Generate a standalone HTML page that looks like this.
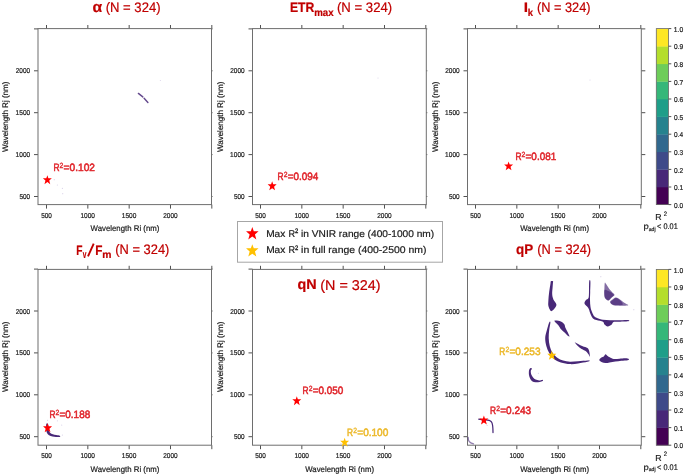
<!DOCTYPE html><html><head><meta charset="utf-8"><style>html,body{margin:0;padding:0;background:#fff;width:685px;height:476px;overflow:hidden}svg{display:block;text-rendering:geometricPrecision;will-change:transform}</style></head><body><svg width="685" height="476" viewBox="0 0 685 476" font-family="Liberation Sans, sans-serif">
<rect width="685" height="476" fill="#fff"/>
<line x1="46.50" y1="204.60" x2="46.50" y2="208.60" stroke="#505050" stroke-width="1.00"/>
<line x1="46.50" y1="25.00" x2="46.50" y2="28.60" stroke="#505050" stroke-width="1.00"/>
<line x1="34.00" y1="196.50" x2="38.00" y2="196.50" stroke="#505050" stroke-width="1.00"/>
<line x1="211.50" y1="196.50" x2="212.50" y2="196.50" stroke="#505050" stroke-width="1.00"/>
<line x1="87.83" y1="204.60" x2="87.83" y2="208.60" stroke="#505050" stroke-width="1.00"/>
<line x1="87.83" y1="25.00" x2="87.83" y2="28.60" stroke="#505050" stroke-width="1.00"/>
<line x1="34.00" y1="154.60" x2="38.00" y2="154.60" stroke="#505050" stroke-width="1.00"/>
<line x1="211.50" y1="154.60" x2="212.50" y2="154.60" stroke="#505050" stroke-width="1.00"/>
<line x1="129.16" y1="204.60" x2="129.16" y2="208.60" stroke="#505050" stroke-width="1.00"/>
<line x1="129.16" y1="25.00" x2="129.16" y2="28.60" stroke="#505050" stroke-width="1.00"/>
<line x1="34.00" y1="112.70" x2="38.00" y2="112.70" stroke="#505050" stroke-width="1.00"/>
<line x1="211.50" y1="112.70" x2="212.50" y2="112.70" stroke="#505050" stroke-width="1.00"/>
<line x1="170.49" y1="204.60" x2="170.49" y2="208.60" stroke="#505050" stroke-width="1.00"/>
<line x1="170.49" y1="25.00" x2="170.49" y2="28.60" stroke="#505050" stroke-width="1.00"/>
<line x1="34.00" y1="70.80" x2="38.00" y2="70.80" stroke="#505050" stroke-width="1.00"/>
<line x1="211.50" y1="70.80" x2="212.50" y2="70.80" stroke="#505050" stroke-width="1.00"/>
<line x1="211.82" y1="204.60" x2="211.82" y2="208.60" stroke="#505050" stroke-width="1.00"/>
<line x1="211.82" y1="25.00" x2="211.82" y2="28.60" stroke="#505050" stroke-width="1.00"/>
<line x1="34.00" y1="28.90" x2="38.00" y2="28.90" stroke="#505050" stroke-width="1.00"/>
<line x1="211.50" y1="28.90" x2="212.50" y2="28.90" stroke="#505050" stroke-width="1.00"/>
<rect x="38.00" y="28.60" width="173.50" height="176.00" fill="none" stroke="#6e6e6e" stroke-width="1"/>
<text x="41.14" y="217.90" font-size="7.10" fill="#1a1a1a" textLength="10.70" lengthAdjust="spacingAndGlyphs" stroke="#1a1a1a" stroke-width="0.20">500</text>
<text x="19.44" y="199.05" font-size="7.10" fill="#1a1a1a" textLength="10.70" lengthAdjust="spacingAndGlyphs" stroke="#1a1a1a" stroke-width="0.20">500</text>
<text x="80.44" y="217.90" font-size="7.10" fill="#1a1a1a" textLength="14.55" lengthAdjust="spacingAndGlyphs" stroke="#1a1a1a" stroke-width="0.20">1000</text>
<text x="15.61" y="157.15" font-size="7.10" fill="#1a1a1a" textLength="14.55" lengthAdjust="spacingAndGlyphs" stroke="#1a1a1a" stroke-width="0.20">1000</text>
<text x="121.77" y="217.90" font-size="7.10" fill="#1a1a1a" textLength="14.55" lengthAdjust="spacingAndGlyphs" stroke="#1a1a1a" stroke-width="0.20">1500</text>
<text x="15.61" y="115.25" font-size="7.10" fill="#1a1a1a" textLength="14.55" lengthAdjust="spacingAndGlyphs" stroke="#1a1a1a" stroke-width="0.20">1500</text>
<text x="163.27" y="217.90" font-size="7.10" fill="#1a1a1a" textLength="14.38" lengthAdjust="spacingAndGlyphs" stroke="#1a1a1a" stroke-width="0.20">2000</text>
<text x="15.78" y="73.35" font-size="7.10" fill="#1a1a1a" textLength="14.38" lengthAdjust="spacingAndGlyphs" stroke="#1a1a1a" stroke-width="0.20">2000</text>
<text x="90.61" y="231.40" font-size="8.10" fill="#1a1a1a" textLength="68.74" lengthAdjust="spacingAndGlyphs" stroke="#1a1a1a" stroke-width="0.20">Wavelength Ri (nm)</text>
<text transform="translate(8.30 152.04) rotate(-90)" x="0" y="0" font-size="8.10" fill="#1a1a1a" stroke="#1a1a1a" stroke-width="0.20" textLength="70.35" lengthAdjust="spacingAndGlyphs">Wavelength Rj (nm)</text>
<line x1="260.50" y1="204.60" x2="260.50" y2="208.60" stroke="#505050" stroke-width="1.00"/>
<line x1="260.50" y1="25.00" x2="260.50" y2="28.60" stroke="#505050" stroke-width="1.00"/>
<line x1="248.50" y1="196.50" x2="252.50" y2="196.50" stroke="#505050" stroke-width="1.00"/>
<line x1="426.30" y1="196.50" x2="427.30" y2="196.50" stroke="#505050" stroke-width="1.00"/>
<line x1="301.83" y1="204.60" x2="301.83" y2="208.60" stroke="#505050" stroke-width="1.00"/>
<line x1="301.83" y1="25.00" x2="301.83" y2="28.60" stroke="#505050" stroke-width="1.00"/>
<line x1="248.50" y1="154.60" x2="252.50" y2="154.60" stroke="#505050" stroke-width="1.00"/>
<line x1="426.30" y1="154.60" x2="427.30" y2="154.60" stroke="#505050" stroke-width="1.00"/>
<line x1="343.16" y1="204.60" x2="343.16" y2="208.60" stroke="#505050" stroke-width="1.00"/>
<line x1="343.16" y1="25.00" x2="343.16" y2="28.60" stroke="#505050" stroke-width="1.00"/>
<line x1="248.50" y1="112.70" x2="252.50" y2="112.70" stroke="#505050" stroke-width="1.00"/>
<line x1="426.30" y1="112.70" x2="427.30" y2="112.70" stroke="#505050" stroke-width="1.00"/>
<line x1="384.49" y1="204.60" x2="384.49" y2="208.60" stroke="#505050" stroke-width="1.00"/>
<line x1="384.49" y1="25.00" x2="384.49" y2="28.60" stroke="#505050" stroke-width="1.00"/>
<line x1="248.50" y1="70.80" x2="252.50" y2="70.80" stroke="#505050" stroke-width="1.00"/>
<line x1="426.30" y1="70.80" x2="427.30" y2="70.80" stroke="#505050" stroke-width="1.00"/>
<line x1="425.82" y1="204.60" x2="425.82" y2="208.60" stroke="#505050" stroke-width="1.00"/>
<line x1="425.82" y1="25.00" x2="425.82" y2="28.60" stroke="#505050" stroke-width="1.00"/>
<line x1="248.50" y1="28.90" x2="252.50" y2="28.90" stroke="#505050" stroke-width="1.00"/>
<line x1="426.30" y1="28.90" x2="427.30" y2="28.90" stroke="#505050" stroke-width="1.00"/>
<rect x="252.50" y="28.60" width="173.80" height="176.00" fill="none" stroke="#6e6e6e" stroke-width="1"/>
<text x="255.14" y="217.90" font-size="7.10" fill="#1a1a1a" textLength="10.70" lengthAdjust="spacingAndGlyphs" stroke="#1a1a1a" stroke-width="0.20">500</text>
<text x="233.94" y="199.05" font-size="7.10" fill="#1a1a1a" textLength="10.70" lengthAdjust="spacingAndGlyphs" stroke="#1a1a1a" stroke-width="0.20">500</text>
<text x="294.44" y="217.90" font-size="7.10" fill="#1a1a1a" textLength="14.55" lengthAdjust="spacingAndGlyphs" stroke="#1a1a1a" stroke-width="0.20">1000</text>
<text x="230.11" y="157.15" font-size="7.10" fill="#1a1a1a" textLength="14.55" lengthAdjust="spacingAndGlyphs" stroke="#1a1a1a" stroke-width="0.20">1000</text>
<text x="335.77" y="217.90" font-size="7.10" fill="#1a1a1a" textLength="14.55" lengthAdjust="spacingAndGlyphs" stroke="#1a1a1a" stroke-width="0.20">1500</text>
<text x="230.11" y="115.25" font-size="7.10" fill="#1a1a1a" textLength="14.55" lengthAdjust="spacingAndGlyphs" stroke="#1a1a1a" stroke-width="0.20">1500</text>
<text x="377.27" y="217.90" font-size="7.10" fill="#1a1a1a" textLength="14.38" lengthAdjust="spacingAndGlyphs" stroke="#1a1a1a" stroke-width="0.20">2000</text>
<text x="230.28" y="73.35" font-size="7.10" fill="#1a1a1a" textLength="14.38" lengthAdjust="spacingAndGlyphs" stroke="#1a1a1a" stroke-width="0.20">2000</text>
<text x="305.26" y="231.40" font-size="8.10" fill="#1a1a1a" textLength="68.74" lengthAdjust="spacingAndGlyphs" stroke="#1a1a1a" stroke-width="0.20">Wavelength Ri (nm)</text>
<text transform="translate(222.80 152.04) rotate(-90)" x="0" y="0" font-size="8.10" fill="#1a1a1a" stroke="#1a1a1a" stroke-width="0.20" textLength="70.35" lengthAdjust="spacingAndGlyphs">Wavelength Rj (nm)</text>
<line x1="475.50" y1="204.60" x2="475.50" y2="208.60" stroke="#505050" stroke-width="1.00"/>
<line x1="475.50" y1="25.00" x2="475.50" y2="28.60" stroke="#505050" stroke-width="1.00"/>
<line x1="463.50" y1="196.50" x2="467.50" y2="196.50" stroke="#505050" stroke-width="1.00"/>
<line x1="641.30" y1="196.50" x2="645.30" y2="196.50" stroke="#505050" stroke-width="1.00"/>
<line x1="516.83" y1="204.60" x2="516.83" y2="208.60" stroke="#505050" stroke-width="1.00"/>
<line x1="516.83" y1="25.00" x2="516.83" y2="28.60" stroke="#505050" stroke-width="1.00"/>
<line x1="463.50" y1="154.60" x2="467.50" y2="154.60" stroke="#505050" stroke-width="1.00"/>
<line x1="641.30" y1="154.60" x2="645.30" y2="154.60" stroke="#505050" stroke-width="1.00"/>
<line x1="558.16" y1="204.60" x2="558.16" y2="208.60" stroke="#505050" stroke-width="1.00"/>
<line x1="558.16" y1="25.00" x2="558.16" y2="28.60" stroke="#505050" stroke-width="1.00"/>
<line x1="463.50" y1="112.70" x2="467.50" y2="112.70" stroke="#505050" stroke-width="1.00"/>
<line x1="641.30" y1="112.70" x2="645.30" y2="112.70" stroke="#505050" stroke-width="1.00"/>
<line x1="599.49" y1="204.60" x2="599.49" y2="208.60" stroke="#505050" stroke-width="1.00"/>
<line x1="599.49" y1="25.00" x2="599.49" y2="28.60" stroke="#505050" stroke-width="1.00"/>
<line x1="463.50" y1="70.80" x2="467.50" y2="70.80" stroke="#505050" stroke-width="1.00"/>
<line x1="641.30" y1="70.80" x2="645.30" y2="70.80" stroke="#505050" stroke-width="1.00"/>
<line x1="640.82" y1="204.60" x2="640.82" y2="208.60" stroke="#505050" stroke-width="1.00"/>
<line x1="640.82" y1="25.00" x2="640.82" y2="28.60" stroke="#505050" stroke-width="1.00"/>
<line x1="463.50" y1="28.90" x2="467.50" y2="28.90" stroke="#505050" stroke-width="1.00"/>
<line x1="641.30" y1="28.90" x2="645.30" y2="28.90" stroke="#505050" stroke-width="1.00"/>
<rect x="467.50" y="28.60" width="173.80" height="176.00" fill="none" stroke="#6e6e6e" stroke-width="1"/>
<text x="470.14" y="217.90" font-size="7.10" fill="#1a1a1a" textLength="10.70" lengthAdjust="spacingAndGlyphs" stroke="#1a1a1a" stroke-width="0.20">500</text>
<text x="448.94" y="199.05" font-size="7.10" fill="#1a1a1a" textLength="10.70" lengthAdjust="spacingAndGlyphs" stroke="#1a1a1a" stroke-width="0.20">500</text>
<text x="509.44" y="217.90" font-size="7.10" fill="#1a1a1a" textLength="14.55" lengthAdjust="spacingAndGlyphs" stroke="#1a1a1a" stroke-width="0.20">1000</text>
<text x="445.11" y="157.15" font-size="7.10" fill="#1a1a1a" textLength="14.55" lengthAdjust="spacingAndGlyphs" stroke="#1a1a1a" stroke-width="0.20">1000</text>
<text x="550.77" y="217.90" font-size="7.10" fill="#1a1a1a" textLength="14.55" lengthAdjust="spacingAndGlyphs" stroke="#1a1a1a" stroke-width="0.20">1500</text>
<text x="445.11" y="115.25" font-size="7.10" fill="#1a1a1a" textLength="14.55" lengthAdjust="spacingAndGlyphs" stroke="#1a1a1a" stroke-width="0.20">1500</text>
<text x="592.27" y="217.90" font-size="7.10" fill="#1a1a1a" textLength="14.38" lengthAdjust="spacingAndGlyphs" stroke="#1a1a1a" stroke-width="0.20">2000</text>
<text x="445.28" y="73.35" font-size="7.10" fill="#1a1a1a" textLength="14.38" lengthAdjust="spacingAndGlyphs" stroke="#1a1a1a" stroke-width="0.20">2000</text>
<text x="520.26" y="231.40" font-size="8.10" fill="#1a1a1a" textLength="68.74" lengthAdjust="spacingAndGlyphs" stroke="#1a1a1a" stroke-width="0.20">Wavelength Ri (nm)</text>
<text transform="translate(437.80 152.04) rotate(-90)" x="0" y="0" font-size="8.10" fill="#1a1a1a" stroke="#1a1a1a" stroke-width="0.20" textLength="70.35" lengthAdjust="spacingAndGlyphs">Wavelength Rj (nm)</text>
<line x1="46.50" y1="445.20" x2="46.50" y2="449.20" stroke="#505050" stroke-width="1.00"/>
<line x1="46.50" y1="265.80" x2="46.50" y2="269.40" stroke="#505050" stroke-width="1.00"/>
<line x1="34.00" y1="436.70" x2="38.00" y2="436.70" stroke="#505050" stroke-width="1.00"/>
<line x1="211.50" y1="436.70" x2="212.50" y2="436.70" stroke="#505050" stroke-width="1.00"/>
<line x1="87.83" y1="445.20" x2="87.83" y2="449.20" stroke="#505050" stroke-width="1.00"/>
<line x1="87.83" y1="265.80" x2="87.83" y2="269.40" stroke="#505050" stroke-width="1.00"/>
<line x1="34.00" y1="394.80" x2="38.00" y2="394.80" stroke="#505050" stroke-width="1.00"/>
<line x1="211.50" y1="394.80" x2="212.50" y2="394.80" stroke="#505050" stroke-width="1.00"/>
<line x1="129.16" y1="445.20" x2="129.16" y2="449.20" stroke="#505050" stroke-width="1.00"/>
<line x1="129.16" y1="265.80" x2="129.16" y2="269.40" stroke="#505050" stroke-width="1.00"/>
<line x1="34.00" y1="352.90" x2="38.00" y2="352.90" stroke="#505050" stroke-width="1.00"/>
<line x1="211.50" y1="352.90" x2="212.50" y2="352.90" stroke="#505050" stroke-width="1.00"/>
<line x1="170.49" y1="445.20" x2="170.49" y2="449.20" stroke="#505050" stroke-width="1.00"/>
<line x1="170.49" y1="265.80" x2="170.49" y2="269.40" stroke="#505050" stroke-width="1.00"/>
<line x1="34.00" y1="311.00" x2="38.00" y2="311.00" stroke="#505050" stroke-width="1.00"/>
<line x1="211.50" y1="311.00" x2="212.50" y2="311.00" stroke="#505050" stroke-width="1.00"/>
<line x1="211.82" y1="445.20" x2="211.82" y2="449.20" stroke="#505050" stroke-width="1.00"/>
<line x1="211.82" y1="265.80" x2="211.82" y2="269.40" stroke="#505050" stroke-width="1.00"/>
<line x1="34.00" y1="269.10" x2="38.00" y2="269.10" stroke="#505050" stroke-width="1.00"/>
<line x1="211.50" y1="269.10" x2="212.50" y2="269.10" stroke="#505050" stroke-width="1.00"/>
<rect x="38.00" y="269.40" width="173.50" height="175.80" fill="none" stroke="#6e6e6e" stroke-width="1"/>
<text x="41.14" y="458.00" font-size="7.10" fill="#1a1a1a" textLength="10.70" lengthAdjust="spacingAndGlyphs" stroke="#1a1a1a" stroke-width="0.20">500</text>
<text x="19.44" y="439.25" font-size="7.10" fill="#1a1a1a" textLength="10.70" lengthAdjust="spacingAndGlyphs" stroke="#1a1a1a" stroke-width="0.20">500</text>
<text x="80.44" y="458.00" font-size="7.10" fill="#1a1a1a" textLength="14.55" lengthAdjust="spacingAndGlyphs" stroke="#1a1a1a" stroke-width="0.20">1000</text>
<text x="15.61" y="397.35" font-size="7.10" fill="#1a1a1a" textLength="14.55" lengthAdjust="spacingAndGlyphs" stroke="#1a1a1a" stroke-width="0.20">1000</text>
<text x="121.77" y="458.00" font-size="7.10" fill="#1a1a1a" textLength="14.55" lengthAdjust="spacingAndGlyphs" stroke="#1a1a1a" stroke-width="0.20">1500</text>
<text x="15.61" y="355.45" font-size="7.10" fill="#1a1a1a" textLength="14.55" lengthAdjust="spacingAndGlyphs" stroke="#1a1a1a" stroke-width="0.20">1500</text>
<text x="163.27" y="458.00" font-size="7.10" fill="#1a1a1a" textLength="14.38" lengthAdjust="spacingAndGlyphs" stroke="#1a1a1a" stroke-width="0.20">2000</text>
<text x="15.78" y="313.55" font-size="7.10" fill="#1a1a1a" textLength="14.38" lengthAdjust="spacingAndGlyphs" stroke="#1a1a1a" stroke-width="0.20">2000</text>
<text x="90.61" y="472.00" font-size="8.10" fill="#1a1a1a" textLength="68.74" lengthAdjust="spacingAndGlyphs" stroke="#1a1a1a" stroke-width="0.20">Wavelength Ri (nm)</text>
<text transform="translate(8.30 392.04) rotate(-90)" x="0" y="0" font-size="8.10" fill="#1a1a1a" stroke="#1a1a1a" stroke-width="0.20" textLength="70.35" lengthAdjust="spacingAndGlyphs">Wavelength Rj (nm)</text>
<line x1="260.50" y1="445.20" x2="260.50" y2="449.20" stroke="#505050" stroke-width="1.00"/>
<line x1="260.50" y1="265.80" x2="260.50" y2="269.40" stroke="#505050" stroke-width="1.00"/>
<line x1="248.50" y1="436.70" x2="252.50" y2="436.70" stroke="#505050" stroke-width="1.00"/>
<line x1="426.30" y1="436.70" x2="427.30" y2="436.70" stroke="#505050" stroke-width="1.00"/>
<line x1="301.83" y1="445.20" x2="301.83" y2="449.20" stroke="#505050" stroke-width="1.00"/>
<line x1="301.83" y1="265.80" x2="301.83" y2="269.40" stroke="#505050" stroke-width="1.00"/>
<line x1="248.50" y1="394.80" x2="252.50" y2="394.80" stroke="#505050" stroke-width="1.00"/>
<line x1="426.30" y1="394.80" x2="427.30" y2="394.80" stroke="#505050" stroke-width="1.00"/>
<line x1="343.16" y1="445.20" x2="343.16" y2="449.20" stroke="#505050" stroke-width="1.00"/>
<line x1="343.16" y1="265.80" x2="343.16" y2="269.40" stroke="#505050" stroke-width="1.00"/>
<line x1="248.50" y1="352.90" x2="252.50" y2="352.90" stroke="#505050" stroke-width="1.00"/>
<line x1="426.30" y1="352.90" x2="427.30" y2="352.90" stroke="#505050" stroke-width="1.00"/>
<line x1="384.49" y1="445.20" x2="384.49" y2="449.20" stroke="#505050" stroke-width="1.00"/>
<line x1="384.49" y1="265.80" x2="384.49" y2="269.40" stroke="#505050" stroke-width="1.00"/>
<line x1="248.50" y1="311.00" x2="252.50" y2="311.00" stroke="#505050" stroke-width="1.00"/>
<line x1="426.30" y1="311.00" x2="427.30" y2="311.00" stroke="#505050" stroke-width="1.00"/>
<line x1="425.82" y1="445.20" x2="425.82" y2="449.20" stroke="#505050" stroke-width="1.00"/>
<line x1="425.82" y1="265.80" x2="425.82" y2="269.40" stroke="#505050" stroke-width="1.00"/>
<line x1="248.50" y1="269.10" x2="252.50" y2="269.10" stroke="#505050" stroke-width="1.00"/>
<line x1="426.30" y1="269.10" x2="427.30" y2="269.10" stroke="#505050" stroke-width="1.00"/>
<rect x="252.50" y="269.40" width="173.80" height="175.80" fill="none" stroke="#6e6e6e" stroke-width="1"/>
<text x="255.14" y="458.00" font-size="7.10" fill="#1a1a1a" textLength="10.70" lengthAdjust="spacingAndGlyphs" stroke="#1a1a1a" stroke-width="0.20">500</text>
<text x="233.94" y="439.25" font-size="7.10" fill="#1a1a1a" textLength="10.70" lengthAdjust="spacingAndGlyphs" stroke="#1a1a1a" stroke-width="0.20">500</text>
<text x="294.44" y="458.00" font-size="7.10" fill="#1a1a1a" textLength="14.55" lengthAdjust="spacingAndGlyphs" stroke="#1a1a1a" stroke-width="0.20">1000</text>
<text x="230.11" y="397.35" font-size="7.10" fill="#1a1a1a" textLength="14.55" lengthAdjust="spacingAndGlyphs" stroke="#1a1a1a" stroke-width="0.20">1000</text>
<text x="335.77" y="458.00" font-size="7.10" fill="#1a1a1a" textLength="14.55" lengthAdjust="spacingAndGlyphs" stroke="#1a1a1a" stroke-width="0.20">1500</text>
<text x="230.11" y="355.45" font-size="7.10" fill="#1a1a1a" textLength="14.55" lengthAdjust="spacingAndGlyphs" stroke="#1a1a1a" stroke-width="0.20">1500</text>
<text x="377.27" y="458.00" font-size="7.10" fill="#1a1a1a" textLength="14.38" lengthAdjust="spacingAndGlyphs" stroke="#1a1a1a" stroke-width="0.20">2000</text>
<text x="230.28" y="313.55" font-size="7.10" fill="#1a1a1a" textLength="14.38" lengthAdjust="spacingAndGlyphs" stroke="#1a1a1a" stroke-width="0.20">2000</text>
<text x="305.26" y="472.00" font-size="8.10" fill="#1a1a1a" textLength="68.74" lengthAdjust="spacingAndGlyphs" stroke="#1a1a1a" stroke-width="0.20">Wavelength Ri (nm)</text>
<text transform="translate(222.80 392.04) rotate(-90)" x="0" y="0" font-size="8.10" fill="#1a1a1a" stroke="#1a1a1a" stroke-width="0.20" textLength="70.35" lengthAdjust="spacingAndGlyphs">Wavelength Rj (nm)</text>
<line x1="475.50" y1="445.20" x2="475.50" y2="449.20" stroke="#505050" stroke-width="1.00"/>
<line x1="475.50" y1="265.80" x2="475.50" y2="269.40" stroke="#505050" stroke-width="1.00"/>
<line x1="463.50" y1="436.70" x2="467.50" y2="436.70" stroke="#505050" stroke-width="1.00"/>
<line x1="641.30" y1="436.70" x2="645.30" y2="436.70" stroke="#505050" stroke-width="1.00"/>
<line x1="516.83" y1="445.20" x2="516.83" y2="449.20" stroke="#505050" stroke-width="1.00"/>
<line x1="516.83" y1="265.80" x2="516.83" y2="269.40" stroke="#505050" stroke-width="1.00"/>
<line x1="463.50" y1="394.80" x2="467.50" y2="394.80" stroke="#505050" stroke-width="1.00"/>
<line x1="641.30" y1="394.80" x2="645.30" y2="394.80" stroke="#505050" stroke-width="1.00"/>
<line x1="558.16" y1="445.20" x2="558.16" y2="449.20" stroke="#505050" stroke-width="1.00"/>
<line x1="558.16" y1="265.80" x2="558.16" y2="269.40" stroke="#505050" stroke-width="1.00"/>
<line x1="463.50" y1="352.90" x2="467.50" y2="352.90" stroke="#505050" stroke-width="1.00"/>
<line x1="641.30" y1="352.90" x2="645.30" y2="352.90" stroke="#505050" stroke-width="1.00"/>
<line x1="599.49" y1="445.20" x2="599.49" y2="449.20" stroke="#505050" stroke-width="1.00"/>
<line x1="599.49" y1="265.80" x2="599.49" y2="269.40" stroke="#505050" stroke-width="1.00"/>
<line x1="463.50" y1="311.00" x2="467.50" y2="311.00" stroke="#505050" stroke-width="1.00"/>
<line x1="641.30" y1="311.00" x2="645.30" y2="311.00" stroke="#505050" stroke-width="1.00"/>
<line x1="640.82" y1="445.20" x2="640.82" y2="449.20" stroke="#505050" stroke-width="1.00"/>
<line x1="640.82" y1="265.80" x2="640.82" y2="269.40" stroke="#505050" stroke-width="1.00"/>
<line x1="463.50" y1="269.10" x2="467.50" y2="269.10" stroke="#505050" stroke-width="1.00"/>
<line x1="641.30" y1="269.10" x2="645.30" y2="269.10" stroke="#505050" stroke-width="1.00"/>
<rect x="467.50" y="269.40" width="173.80" height="175.80" fill="none" stroke="#6e6e6e" stroke-width="1"/>
<text x="470.14" y="458.00" font-size="7.10" fill="#1a1a1a" textLength="10.70" lengthAdjust="spacingAndGlyphs" stroke="#1a1a1a" stroke-width="0.20">500</text>
<text x="448.94" y="439.25" font-size="7.10" fill="#1a1a1a" textLength="10.70" lengthAdjust="spacingAndGlyphs" stroke="#1a1a1a" stroke-width="0.20">500</text>
<text x="509.44" y="458.00" font-size="7.10" fill="#1a1a1a" textLength="14.55" lengthAdjust="spacingAndGlyphs" stroke="#1a1a1a" stroke-width="0.20">1000</text>
<text x="445.11" y="397.35" font-size="7.10" fill="#1a1a1a" textLength="14.55" lengthAdjust="spacingAndGlyphs" stroke="#1a1a1a" stroke-width="0.20">1000</text>
<text x="550.77" y="458.00" font-size="7.10" fill="#1a1a1a" textLength="14.55" lengthAdjust="spacingAndGlyphs" stroke="#1a1a1a" stroke-width="0.20">1500</text>
<text x="445.11" y="355.45" font-size="7.10" fill="#1a1a1a" textLength="14.55" lengthAdjust="spacingAndGlyphs" stroke="#1a1a1a" stroke-width="0.20">1500</text>
<text x="592.27" y="458.00" font-size="7.10" fill="#1a1a1a" textLength="14.38" lengthAdjust="spacingAndGlyphs" stroke="#1a1a1a" stroke-width="0.20">2000</text>
<text x="445.28" y="313.55" font-size="7.10" fill="#1a1a1a" textLength="14.38" lengthAdjust="spacingAndGlyphs" stroke="#1a1a1a" stroke-width="0.20">2000</text>
<text x="520.26" y="472.00" font-size="8.10" fill="#1a1a1a" textLength="68.74" lengthAdjust="spacingAndGlyphs" stroke="#1a1a1a" stroke-width="0.20">Wavelength Ri (nm)</text>
<text transform="translate(437.80 392.04) rotate(-90)" x="0" y="0" font-size="8.10" fill="#1a1a1a" stroke="#1a1a1a" stroke-width="0.20" textLength="70.35" lengthAdjust="spacingAndGlyphs">Wavelength Rj (nm)</text>
<rect x="656.30" y="187.00" width="12.20" height="17.90" fill="#440154"/>
<rect x="656.30" y="169.40" width="12.20" height="17.90" fill="#482878"/>
<rect x="656.30" y="151.80" width="12.20" height="17.90" fill="#3E4A89"/>
<rect x="656.30" y="134.20" width="12.20" height="17.90" fill="#31688E"/>
<rect x="656.30" y="116.60" width="12.20" height="17.90" fill="#26828E"/>
<rect x="656.30" y="99.00" width="12.20" height="17.90" fill="#1F9E89"/>
<rect x="656.30" y="81.40" width="12.20" height="17.90" fill="#35B779"/>
<rect x="656.30" y="63.80" width="12.20" height="17.90" fill="#6DCD59"/>
<rect x="656.30" y="46.20" width="12.20" height="17.90" fill="#B4DE2C"/>
<rect x="656.30" y="28.60" width="12.20" height="17.90" fill="#FDE725"/>
<rect x="656.30" y="28.60" width="12.20" height="176.00" fill="none" stroke="#6a6a6a" stroke-width="0.8"/>
<line x1="668.50" y1="204.60" x2="671.30" y2="204.60" stroke="#505050" stroke-width="1.00"/>
<text x="674.04" y="207.70" font-size="7.10" fill="#1a1a1a" textLength="9.11" lengthAdjust="spacingAndGlyphs" stroke="#1a1a1a" stroke-width="0.20">0.0</text>
<line x1="668.50" y1="187.00" x2="671.30" y2="187.00" stroke="#505050" stroke-width="1.00"/>
<text x="674.04" y="190.10" font-size="7.10" fill="#1a1a1a" textLength="9.18" lengthAdjust="spacingAndGlyphs" stroke="#1a1a1a" stroke-width="0.20">0.1</text>
<line x1="668.50" y1="169.40" x2="671.30" y2="169.40" stroke="#505050" stroke-width="1.00"/>
<text x="674.04" y="172.50" font-size="7.10" fill="#1a1a1a" textLength="9.20" lengthAdjust="spacingAndGlyphs" stroke="#1a1a1a" stroke-width="0.20">0.2</text>
<line x1="668.50" y1="151.80" x2="671.30" y2="151.80" stroke="#505050" stroke-width="1.00"/>
<text x="674.04" y="154.90" font-size="7.10" fill="#1a1a1a" textLength="9.14" lengthAdjust="spacingAndGlyphs" stroke="#1a1a1a" stroke-width="0.20">0.3</text>
<line x1="668.50" y1="134.20" x2="671.30" y2="134.20" stroke="#505050" stroke-width="1.00"/>
<text x="674.04" y="137.30" font-size="7.10" fill="#1a1a1a" textLength="9.04" lengthAdjust="spacingAndGlyphs" stroke="#1a1a1a" stroke-width="0.20">0.4</text>
<line x1="668.50" y1="116.60" x2="671.30" y2="116.60" stroke="#505050" stroke-width="1.00"/>
<text x="674.04" y="119.70" font-size="7.10" fill="#1a1a1a" textLength="9.13" lengthAdjust="spacingAndGlyphs" stroke="#1a1a1a" stroke-width="0.20">0.5</text>
<line x1="668.50" y1="99.00" x2="671.30" y2="99.00" stroke="#505050" stroke-width="1.00"/>
<text x="674.04" y="102.10" font-size="7.10" fill="#1a1a1a" textLength="9.14" lengthAdjust="spacingAndGlyphs" stroke="#1a1a1a" stroke-width="0.20">0.6</text>
<line x1="668.50" y1="81.40" x2="671.30" y2="81.40" stroke="#505050" stroke-width="1.00"/>
<text x="674.04" y="84.50" font-size="7.10" fill="#1a1a1a" textLength="9.20" lengthAdjust="spacingAndGlyphs" stroke="#1a1a1a" stroke-width="0.20">0.7</text>
<line x1="668.50" y1="63.80" x2="671.30" y2="63.80" stroke="#505050" stroke-width="1.00"/>
<text x="674.04" y="66.90" font-size="7.10" fill="#1a1a1a" textLength="9.14" lengthAdjust="spacingAndGlyphs" stroke="#1a1a1a" stroke-width="0.20">0.8</text>
<line x1="668.50" y1="46.20" x2="671.30" y2="46.20" stroke="#505050" stroke-width="1.00"/>
<text x="674.04" y="49.30" font-size="7.10" fill="#1a1a1a" textLength="9.16" lengthAdjust="spacingAndGlyphs" stroke="#1a1a1a" stroke-width="0.20">0.9</text>
<line x1="668.50" y1="28.60" x2="671.30" y2="28.60" stroke="#505050" stroke-width="1.00"/>
<text x="673.80" y="31.70" font-size="7.10" fill="#1a1a1a" textLength="9.36" lengthAdjust="spacingAndGlyphs" stroke="#1a1a1a" stroke-width="0.20">1.0</text>
<text x="655.18" y="220.20" font-size="8.70" fill="#1a1a1a" textLength="6.34" lengthAdjust="spacingAndGlyphs" stroke="#1a1a1a" stroke-width="0.20">R</text>
<text x="663.80" y="215.60" font-size="6.50" fill="#1a1a1a" textLength="3.30" lengthAdjust="spacingAndGlyphs" stroke="#1a1a1a" stroke-width="0.20">2</text>
<text x="643.48" y="229.00" font-size="8.20" fill="#1a1a1a" textLength="5.31" lengthAdjust="spacingAndGlyphs" stroke="#1a1a1a" stroke-width="0.20">p</text>
<text x="648.78" y="230.50" font-size="5.60" fill="#1a1a1a" textLength="6.86" lengthAdjust="spacingAndGlyphs" stroke="#1a1a1a" stroke-width="0.20">adj</text>
<text x="656.93" y="229.00" font-size="8.20" fill="#1a1a1a" textLength="4.33" lengthAdjust="spacingAndGlyphs" stroke="#1a1a1a" stroke-width="0.20">&lt;</text>
<text x="663.51" y="229.00" font-size="8.20" fill="#1a1a1a" textLength="14.25" lengthAdjust="spacingAndGlyphs" stroke="#1a1a1a" stroke-width="0.20">0.01</text>
<rect x="656.30" y="427.62" width="12.20" height="17.88" fill="#440154"/>
<rect x="656.30" y="410.04" width="12.20" height="17.88" fill="#482878"/>
<rect x="656.30" y="392.46" width="12.20" height="17.88" fill="#3E4A89"/>
<rect x="656.30" y="374.88" width="12.20" height="17.88" fill="#31688E"/>
<rect x="656.30" y="357.30" width="12.20" height="17.88" fill="#26828E"/>
<rect x="656.30" y="339.72" width="12.20" height="17.88" fill="#1F9E89"/>
<rect x="656.30" y="322.14" width="12.20" height="17.88" fill="#35B779"/>
<rect x="656.30" y="304.56" width="12.20" height="17.88" fill="#6DCD59"/>
<rect x="656.30" y="286.98" width="12.20" height="17.88" fill="#B4DE2C"/>
<rect x="656.30" y="269.40" width="12.20" height="17.88" fill="#FDE725"/>
<rect x="656.30" y="269.40" width="12.20" height="175.80" fill="none" stroke="#6a6a6a" stroke-width="0.8"/>
<line x1="668.50" y1="445.20" x2="671.30" y2="445.20" stroke="#505050" stroke-width="1.00"/>
<text x="674.04" y="448.30" font-size="7.10" fill="#1a1a1a" textLength="9.11" lengthAdjust="spacingAndGlyphs" stroke="#1a1a1a" stroke-width="0.20">0.0</text>
<line x1="668.50" y1="427.62" x2="671.30" y2="427.62" stroke="#505050" stroke-width="1.00"/>
<text x="674.04" y="430.72" font-size="7.10" fill="#1a1a1a" textLength="9.18" lengthAdjust="spacingAndGlyphs" stroke="#1a1a1a" stroke-width="0.20">0.1</text>
<line x1="668.50" y1="410.04" x2="671.30" y2="410.04" stroke="#505050" stroke-width="1.00"/>
<text x="674.04" y="413.14" font-size="7.10" fill="#1a1a1a" textLength="9.20" lengthAdjust="spacingAndGlyphs" stroke="#1a1a1a" stroke-width="0.20">0.2</text>
<line x1="668.50" y1="392.46" x2="671.30" y2="392.46" stroke="#505050" stroke-width="1.00"/>
<text x="674.04" y="395.56" font-size="7.10" fill="#1a1a1a" textLength="9.14" lengthAdjust="spacingAndGlyphs" stroke="#1a1a1a" stroke-width="0.20">0.3</text>
<line x1="668.50" y1="374.88" x2="671.30" y2="374.88" stroke="#505050" stroke-width="1.00"/>
<text x="674.04" y="377.98" font-size="7.10" fill="#1a1a1a" textLength="9.04" lengthAdjust="spacingAndGlyphs" stroke="#1a1a1a" stroke-width="0.20">0.4</text>
<line x1="668.50" y1="357.30" x2="671.30" y2="357.30" stroke="#505050" stroke-width="1.00"/>
<text x="674.04" y="360.40" font-size="7.10" fill="#1a1a1a" textLength="9.13" lengthAdjust="spacingAndGlyphs" stroke="#1a1a1a" stroke-width="0.20">0.5</text>
<line x1="668.50" y1="339.72" x2="671.30" y2="339.72" stroke="#505050" stroke-width="1.00"/>
<text x="674.04" y="342.82" font-size="7.10" fill="#1a1a1a" textLength="9.14" lengthAdjust="spacingAndGlyphs" stroke="#1a1a1a" stroke-width="0.20">0.6</text>
<line x1="668.50" y1="322.14" x2="671.30" y2="322.14" stroke="#505050" stroke-width="1.00"/>
<text x="674.04" y="325.24" font-size="7.10" fill="#1a1a1a" textLength="9.20" lengthAdjust="spacingAndGlyphs" stroke="#1a1a1a" stroke-width="0.20">0.7</text>
<line x1="668.50" y1="304.56" x2="671.30" y2="304.56" stroke="#505050" stroke-width="1.00"/>
<text x="674.04" y="307.66" font-size="7.10" fill="#1a1a1a" textLength="9.14" lengthAdjust="spacingAndGlyphs" stroke="#1a1a1a" stroke-width="0.20">0.8</text>
<line x1="668.50" y1="286.98" x2="671.30" y2="286.98" stroke="#505050" stroke-width="1.00"/>
<text x="674.04" y="290.08" font-size="7.10" fill="#1a1a1a" textLength="9.16" lengthAdjust="spacingAndGlyphs" stroke="#1a1a1a" stroke-width="0.20">0.9</text>
<line x1="668.50" y1="269.40" x2="671.30" y2="269.40" stroke="#505050" stroke-width="1.00"/>
<text x="673.80" y="272.50" font-size="7.10" fill="#1a1a1a" textLength="9.36" lengthAdjust="spacingAndGlyphs" stroke="#1a1a1a" stroke-width="0.20">1.0</text>
<text x="655.18" y="460.80" font-size="8.70" fill="#1a1a1a" textLength="6.34" lengthAdjust="spacingAndGlyphs" stroke="#1a1a1a" stroke-width="0.20">R</text>
<text x="663.80" y="456.20" font-size="6.50" fill="#1a1a1a" textLength="3.30" lengthAdjust="spacingAndGlyphs" stroke="#1a1a1a" stroke-width="0.20">2</text>
<text x="643.48" y="469.60" font-size="8.20" fill="#1a1a1a" textLength="5.31" lengthAdjust="spacingAndGlyphs" stroke="#1a1a1a" stroke-width="0.20">p</text>
<text x="648.78" y="471.10" font-size="5.60" fill="#1a1a1a" textLength="6.86" lengthAdjust="spacingAndGlyphs" stroke="#1a1a1a" stroke-width="0.20">adj</text>
<text x="656.93" y="469.60" font-size="8.20" fill="#1a1a1a" textLength="4.33" lengthAdjust="spacingAndGlyphs" stroke="#1a1a1a" stroke-width="0.20">&lt;</text>
<text x="663.51" y="469.60" font-size="8.20" fill="#1a1a1a" textLength="14.25" lengthAdjust="spacingAndGlyphs" stroke="#1a1a1a" stroke-width="0.20">0.01</text>
<path d="M550.90,281.30 C551.32,280.95 552.67,280.93 553.00,281.30 C553.33,281.67 552.97,282.45 552.90,283.50 C552.83,284.55 552.72,285.80 552.60,287.60 C552.48,289.40 552.07,292.33 552.20,294.30 C552.33,296.27 552.70,297.72 553.40,299.40 C554.10,301.08 556.18,302.93 556.40,304.40 C556.62,305.87 555.40,307.15 554.70,308.20 C554.00,309.25 552.90,310.28 552.20,310.70 C551.50,311.12 551.13,311.47 550.50,310.70 C549.87,309.93 548.75,307.85 548.40,306.10 C548.05,304.35 548.27,302.58 548.40,300.20 C548.53,297.82 548.85,294.60 549.20,291.80 C549.55,289.00 550.22,285.15 550.50,283.40 C550.78,281.65 550.48,281.65 550.90,281.30Z" fill="#482878"/>
<path d="M590.40,281.40 C590.57,283.17 590.27,288.90 590.20,292.00 C590.13,295.10 589.95,297.50 590.00,300.00 C590.05,302.50 590.17,305.00 590.50,307.00 C590.83,309.00 591.38,310.45 592.00,312.00 C592.62,313.55 593.37,315.30 594.20,316.30 C595.03,317.30 595.53,317.42 597.00,318.00 C598.47,318.58 600.83,319.42 603.00,319.80 C605.17,320.18 607.50,320.22 610.00,320.30 C612.50,320.38 615.00,320.35 618.00,320.30 C621.00,320.25 626.30,319.83 628.00,320.00 C629.70,320.17 629.87,321.00 628.20,321.30 C626.53,321.60 620.45,321.68 618.00,321.80 C615.55,321.92 614.58,321.50 613.50,322.00 C612.42,322.50 612.47,324.07 611.50,324.80 C610.53,325.53 608.87,326.45 607.70,326.40 C606.53,326.35 605.28,325.28 604.50,324.50 C603.72,323.72 604.33,322.45 603.00,321.70 C601.67,320.95 598.17,320.53 596.50,320.00 C594.83,319.47 594.00,319.50 593.00,318.50 C592.00,317.50 591.17,315.50 590.50,314.00 C589.83,312.50 589.50,310.67 589.00,309.50 C588.50,308.33 588.17,307.83 587.50,307.00 C586.83,306.17 585.50,305.25 585.00,304.50 C584.50,303.75 584.33,303.25 584.50,302.50 C584.67,301.75 585.33,300.75 586.00,300.00 C586.67,299.25 588.00,299.33 588.50,298.00 C589.00,296.67 588.88,294.77 589.00,292.00 C589.12,289.23 588.97,283.17 589.20,281.40 C589.43,279.63 590.23,279.63 590.40,281.40Z" fill="#482878"/>
<path d="M605.00,282.40 C605.28,282.37 605.77,283.48 606.30,284.30 C606.83,285.12 607.57,286.33 608.20,287.30 C608.83,288.27 609.43,289.27 610.10,290.10 C610.77,290.93 611.47,291.47 612.20,292.30 C612.93,293.13 614.62,294.18 614.50,295.10 C614.38,296.02 612.47,296.88 611.50,297.80 C610.53,298.72 609.57,300.30 608.70,300.60 C607.83,300.90 606.98,300.15 606.30,299.60 C605.62,299.05 604.93,298.32 604.60,297.30 C604.27,296.28 604.33,294.97 604.30,293.50 C604.27,292.03 604.35,290.00 604.40,288.50 C604.45,287.00 604.50,285.52 604.60,284.50 C604.70,283.48 604.72,282.43 605.00,282.40Z" fill="#482878" fill-opacity="0.68"/>
<path d="M604.60,290.00 C605.23,289.08 607.22,290.47 608.50,291.00 C609.78,291.53 611.42,292.48 612.30,293.20 C613.18,293.92 614.02,294.53 613.80,295.30 C613.58,296.07 611.87,297.00 611.00,297.80 C610.13,298.60 609.43,299.90 608.60,300.10 C607.77,300.30 606.65,299.60 606.00,299.00 C605.35,298.40 604.93,298.00 604.70,296.50 C604.47,295.00 603.97,290.92 604.60,290.00Z" fill="#482878" fill-opacity="0.68"/>
<path d="M610.10,301.50 C610.38,300.83 611.60,300.17 612.50,299.50 C613.40,298.83 614.55,297.72 615.50,297.50 C616.45,297.28 617.28,297.75 618.20,298.20 C619.12,298.65 620.12,299.53 621.00,300.20 C621.88,300.87 622.67,301.60 623.50,302.20 C624.33,302.80 625.22,303.30 626.00,303.80 C626.78,304.30 628.53,304.88 628.20,305.20 C627.87,305.52 625.33,305.62 624.00,305.70 C622.67,305.78 621.45,305.72 620.20,305.70 C618.95,305.68 617.63,305.68 616.50,305.60 C615.37,305.52 614.35,305.55 613.40,305.20 C612.45,304.85 611.35,304.12 610.80,303.50 C610.25,302.88 609.82,302.17 610.10,301.50Z" fill="#482878" fill-opacity="0.68"/>
<path d="M610.80,302.00 C611.27,300.97 614.07,298.80 615.30,298.30 C616.53,297.80 617.17,298.42 618.20,299.00 C619.23,299.58 620.78,300.83 621.50,301.80 C622.22,302.77 623.33,304.23 622.50,304.80 C621.67,305.37 618.17,305.25 616.50,305.20 C614.83,305.15 613.45,305.03 612.50,304.50 C611.55,303.97 610.33,303.03 610.80,302.00Z" fill="#482878" fill-opacity="0.68"/>
<path d="M549.20,322.50 C548.62,323.75 547.57,327.40 546.90,330.00 C546.23,332.60 545.28,335.40 545.20,338.10 C545.12,340.80 545.73,343.70 546.40,346.20 C547.07,348.70 547.95,350.98 549.20,353.10 C550.45,355.22 551.97,357.35 553.90,358.90 C555.83,360.45 558.12,361.53 560.80,362.40 C563.48,363.27 567.12,363.92 570.00,364.10 C572.88,364.28 575.20,363.88 578.10,363.50 C581.00,363.12 585.50,362.22 587.40,361.80 C589.30,361.38 589.23,361.27 589.50,361.00 C589.77,360.73 589.35,360.27 589.00,360.20 C588.65,360.13 589.22,360.43 587.40,360.60 C585.58,360.77 581.00,361.00 578.10,361.20 C575.20,361.40 572.50,361.90 570.00,361.80 C567.50,361.70 565.22,361.28 563.10,360.60 C560.98,359.92 559.03,358.95 557.30,357.70 C555.57,356.45 553.95,355.02 552.70,353.10 C551.45,351.18 550.47,348.70 549.80,346.20 C549.13,343.70 548.80,340.80 548.70,338.10 C548.60,335.40 548.92,332.60 549.20,330.00 C549.48,327.40 550.40,323.75 550.40,322.50 C550.40,321.25 549.78,321.25 549.20,322.50Z" fill="#482878"/>
<path d="M554.40,320.80 C554.78,320.13 559.15,320.83 560.80,321.40 C562.45,321.97 563.53,323.15 564.30,324.20 C565.07,325.25 564.83,326.35 565.40,327.70 C565.97,329.05 567.02,330.85 567.70,332.30 C568.38,333.75 569.58,335.92 569.50,336.40 C569.42,336.88 568.07,335.88 567.20,335.20 C566.33,334.52 565.37,333.35 564.30,332.30 C563.23,331.25 561.77,330.05 560.80,328.90 C559.83,327.75 559.57,326.75 558.50,325.40 C557.43,324.05 554.02,321.47 554.40,320.80Z" fill="#482878"/>
<path d="M574.70,342.20 C574.70,341.82 576.77,343.23 578.10,343.90 C579.43,344.57 581.15,345.53 582.70,346.20 C584.25,346.87 586.33,347.13 587.40,347.90 C588.47,348.67 588.68,349.35 589.10,350.80 C589.52,352.25 590.00,356.02 589.90,356.60 C589.80,357.18 589.12,355.17 588.50,354.30 C587.88,353.43 587.35,352.27 586.20,351.40 C585.05,350.53 582.95,349.97 581.60,349.10 C580.25,348.23 579.25,347.35 578.10,346.20 C576.95,345.05 574.70,342.58 574.70,342.20Z" fill="#482878"/>
<path d="M599.40,359.60 C599.68,359.07 600.67,358.13 601.40,357.60 C602.13,357.07 603.12,356.95 603.80,356.40 C604.48,355.85 604.92,354.40 605.50,354.30 C606.08,354.20 606.52,355.25 607.30,355.80 C608.08,356.35 609.13,357.07 610.20,357.60 C611.27,358.13 612.15,358.82 613.70,359.00 C615.25,359.18 617.55,358.82 619.50,358.70 C621.45,358.58 623.83,358.25 625.40,358.30 C626.97,358.35 628.52,358.68 628.90,359.00 C629.28,359.32 628.97,359.90 627.70,360.20 C626.43,360.50 623.35,360.57 621.30,360.80 C619.25,361.03 617.35,361.32 615.40,361.60 C613.45,361.88 611.25,362.25 609.60,362.50 C607.95,362.75 606.77,363.15 605.50,363.10 C604.23,363.05 602.97,362.58 602.00,362.20 C601.03,361.82 600.13,361.23 599.70,360.80 C599.27,360.37 599.12,360.13 599.40,359.60Z" fill="#482878"/>
<path d="M530.30,368.30 C529.87,368.68 529.22,369.47 529.00,370.60 C528.78,371.73 528.82,373.77 529.00,375.10 C529.18,376.43 529.58,377.58 530.10,378.60 C530.62,379.62 531.18,380.60 532.10,381.20 C533.02,381.80 534.35,382.08 535.60,382.20 C536.85,382.32 538.42,382.12 539.60,381.90 C540.78,381.68 542.15,381.23 542.70,380.90 C543.25,380.57 542.98,380.07 542.90,379.90 C542.82,379.73 542.83,379.82 542.20,379.90 C541.57,379.98 540.20,380.45 539.10,380.40 C538.00,380.35 536.60,380.07 535.60,379.60 C534.60,379.13 533.82,378.43 533.10,377.60 C532.38,376.77 531.68,375.68 531.30,374.60 C530.92,373.52 530.72,372.02 530.80,371.10 C530.88,370.18 531.67,369.57 531.80,369.10 C531.93,368.63 531.85,368.43 531.60,368.30 C531.35,368.17 530.73,367.92 530.30,368.30Z" fill="#482878"/>
<path d="M478.80,419.20 C479.50,419.27 481.57,419.45 483.00,419.60 C484.43,419.75 486.23,419.90 487.40,420.10 C488.57,420.30 489.27,420.40 490.00,420.80 C490.73,421.20 491.37,421.72 491.80,422.50 C492.23,423.28 492.42,424.42 492.60,425.50 C492.78,426.58 492.83,427.82 492.90,429.00 C492.97,430.18 492.98,432.00 493.00,432.60" fill="none" stroke="#482878" stroke-width="1.25" stroke-linecap="round" stroke-linejoin="round"/>
<path d="M468.20,437.50 C468.27,438.00 468.22,439.65 468.60,440.50 C468.98,441.35 469.68,442.05 470.50,442.60 C471.32,443.15 473.00,443.60 473.50,443.80" fill="none" stroke="#482878" stroke-width="1.30" stroke-linecap="round" stroke-linejoin="round" stroke-opacity="0.60"/>
<path d="M46.30,424.00 C46.00,424.92 46.08,428.00 46.20,429.50 C46.32,431.00 46.53,432.05 47.00,433.00 C47.47,433.95 48.08,434.60 49.00,435.20 C49.92,435.80 51.33,436.30 52.50,436.60 C53.67,436.90 54.78,436.93 56.00,437.00 C57.22,437.07 59.17,437.20 59.80,437.00 C60.43,436.80 60.40,436.13 59.80,435.80 C59.20,435.47 57.37,435.25 56.20,435.00 C55.03,434.75 53.78,434.63 52.80,434.30 C51.82,433.97 50.93,433.55 50.30,433.00 C49.67,432.45 49.28,431.75 49.00,431.00 C48.72,430.25 48.77,429.67 48.60,428.50 C48.43,427.33 48.38,424.75 48.00,424.00 C47.62,423.25 46.60,423.08 46.30,424.00Z" fill="#482878"/>
<path d="M138.40,93.40 L142.80,96.90" fill="none" stroke="#482878" stroke-width="1.40" stroke-linecap="round" stroke-linejoin="round" stroke-opacity="0.85"/>
<path d="M144.10,98.30 L147.90,102.50" fill="none" stroke="#482878" stroke-width="1.40" stroke-linecap="round" stroke-linejoin="round" stroke-opacity="0.85"/>
<circle cx="160.4" cy="80.5" r="0.6" fill="#8a70b8" fill-opacity="0.3"/>
<circle cx="54.3" cy="179.7" r="0.6" fill="#8a70b8" fill-opacity="0.3"/>
<circle cx="57.4" cy="185.0" r="0.6" fill="#8a70b8" fill-opacity="0.3"/>
<circle cx="62.4" cy="188.4" r="0.6" fill="#8a70b8" fill-opacity="0.3"/>
<circle cx="62.7" cy="193.7" r="0.6" fill="#8a70b8" fill-opacity="0.3"/>
<circle cx="47.6" cy="420.3" r="0.6" fill="#8a70b8" fill-opacity="0.3"/>
<circle cx="57.4" cy="420.8" r="0.6" fill="#8a70b8" fill-opacity="0.3"/>
<circle cx="61.7" cy="425.1" r="0.6" fill="#8a70b8" fill-opacity="0.3"/>
<circle cx="62.4" cy="435.1" r="0.6" fill="#8a70b8" fill-opacity="0.3"/>
<circle cx="487.2" cy="425.5" r="0.6" fill="#8a70b8" fill-opacity="0.3"/>
<circle cx="538.4" cy="373.3" r="0.6" fill="#8a70b8" fill-opacity="0.3"/>
<circle cx="341.0" cy="443.6" r="0.6" fill="#8a70b8" fill-opacity="0.3"/>
<circle cx="600.8" cy="276.7" r="0.6" fill="#8a70b8" fill-opacity="0.3"/>
<circle cx="633.8" cy="309.7" r="0.6" fill="#8a70b8" fill-opacity="0.3"/>
<circle cx="378.0" cy="78.0" r="0.6" fill="#8a70b8" fill-opacity="0.3"/>
<circle cx="590.0" cy="80.0" r="0.6" fill="#8a70b8" fill-opacity="0.3"/>
<text x="92.47" y="12.20" font-size="15.00" font-weight="bold" fill="#C00000" textLength="9.68" lengthAdjust="spacingAndGlyphs" stroke="#C00000" stroke-width="0.20">α</text>
<text x="105.68" y="12.10" font-size="13.70" fill="#C00000" textLength="54.85" lengthAdjust="spacingAndGlyphs" stroke="#C00000" stroke-width="0.20">(N = 324)</text>
<text x="289.98" y="12.10" font-size="13.70" font-weight="bold" fill="#C00000" textLength="24.40" lengthAdjust="spacingAndGlyphs" stroke="#C00000" stroke-width="0.20">ETR</text>
<text x="314.17" y="15.90" font-size="10.40" font-weight="bold" fill="#C00000" textLength="19.42" lengthAdjust="spacingAndGlyphs" stroke="#C00000" stroke-width="0.20">max</text>
<text x="336.98" y="12.10" font-size="13.70" fill="#C00000" textLength="55.16" lengthAdjust="spacingAndGlyphs" stroke="#C00000" stroke-width="0.20">(N = 324)</text>
<text x="523.66" y="11.90" font-size="13.70" font-weight="bold" fill="#C00000" textLength="4.29" lengthAdjust="spacingAndGlyphs" stroke="#C00000" stroke-width="0.20">I</text>
<text x="527.74" y="15.80" font-size="10.10" font-weight="bold" fill="#C00000" textLength="5.25" lengthAdjust="spacingAndGlyphs" stroke="#C00000" stroke-width="0.20">k</text>
<text x="537.00" y="12.10" font-size="13.70" fill="#C00000" textLength="53.51" lengthAdjust="spacingAndGlyphs" stroke="#C00000" stroke-width="0.20">(N = 324)</text>
<text x="76.21" y="254.50" font-size="13.70" font-weight="bold" fill="#C00000" textLength="6.26" lengthAdjust="spacingAndGlyphs" stroke="#C00000" stroke-width="0.20">F</text>
<text x="82.67" y="257.90" font-size="10.80" font-weight="bold" fill="#C00000" textLength="3.66" lengthAdjust="spacingAndGlyphs" stroke="#C00000" stroke-width="0.20">v</text>
<line x1="88.00" y1="256.30" x2="93.70" y2="243.60" stroke="#C00000" stroke-width="1.90"/>
<text x="95.20" y="254.50" font-size="13.70" font-weight="bold" fill="#C00000" textLength="7.22" lengthAdjust="spacingAndGlyphs" stroke="#C00000" stroke-width="0.20">F</text>
<text x="102.23" y="258.20" font-size="10.40" font-weight="bold" fill="#C00000" textLength="9.21" lengthAdjust="spacingAndGlyphs" stroke="#C00000" stroke-width="0.20">m</text>
<text x="115.30" y="254.40" font-size="13.70" fill="#C00000" textLength="54.03" lengthAdjust="spacingAndGlyphs" stroke="#C00000" stroke-width="0.20">(N = 324)</text>
<text x="297.43" y="289.40" font-size="14.20" font-weight="bold" fill="#C00000" textLength="19.15" lengthAdjust="spacingAndGlyphs" stroke="#C00000" stroke-width="0.20">qN</text>
<text x="320.30" y="289.50" font-size="14.20" fill="#C00000" textLength="60.32" lengthAdjust="spacingAndGlyphs" stroke="#C00000" stroke-width="0.20">(N = 324)</text>
<text x="515.96" y="254.30" font-size="14.00" font-weight="bold" fill="#C00000" textLength="17.11" lengthAdjust="spacingAndGlyphs" stroke="#C00000" stroke-width="0.20">qP</text>
<text x="537.30" y="254.30" font-size="13.70" fill="#C00000" textLength="53.82" lengthAdjust="spacingAndGlyphs" stroke="#C00000" stroke-width="0.20">(N = 324)</text>
<polygon points="47.35,175.25 48.40,178.24 51.84,178.24 49.25,180.55 50.24,184.16 47.35,182.12 44.46,184.16 45.45,180.55 42.86,178.24 46.30,178.24" fill="#FF0000"/>
<text x="53.39" y="170.80" font-size="10.60" fill="#E0262C" textLength="6.03" lengthAdjust="spacingAndGlyphs" stroke="#E0262C" stroke-width="0.55">R</text>
<text x="59.56" y="167.80" font-size="7.50" fill="#E0262C" textLength="3.79" lengthAdjust="spacingAndGlyphs" stroke="#E0262C" stroke-width="0.40">2</text>
<text x="63.57" y="170.80" font-size="10.60" fill="#E0262C" textLength="31.38" lengthAdjust="spacingAndGlyphs" stroke="#E0262C" stroke-width="0.55">=0.102</text>
<polygon points="272.15,181.35 273.20,184.34 276.64,184.34 274.05,186.65 275.04,190.26 272.15,188.22 269.26,190.26 270.25,186.65 267.66,184.34 271.10,184.34" fill="#FF0000"/>
<text x="277.49" y="180.00" font-size="10.60" fill="#E0262C" textLength="6.03" lengthAdjust="spacingAndGlyphs" stroke="#E0262C" stroke-width="0.55">R</text>
<text x="283.66" y="177.00" font-size="7.50" fill="#E0262C" textLength="3.79" lengthAdjust="spacingAndGlyphs" stroke="#E0262C" stroke-width="0.40">2</text>
<text x="287.68" y="180.00" font-size="10.60" fill="#E0262C" textLength="30.63" lengthAdjust="spacingAndGlyphs" stroke="#E0262C" stroke-width="0.55">=0.094</text>
<polygon points="508.60,161.45 509.65,164.44 513.09,164.44 510.50,166.75 511.49,170.36 508.60,168.32 505.71,170.36 506.70,166.75 504.11,164.44 507.55,164.44" fill="#FF0000"/>
<text x="515.39" y="159.90" font-size="10.60" fill="#E0262C" textLength="6.03" lengthAdjust="spacingAndGlyphs" stroke="#E0262C" stroke-width="0.55">R</text>
<text x="521.56" y="156.90" font-size="7.50" fill="#E0262C" textLength="3.79" lengthAdjust="spacingAndGlyphs" stroke="#E0262C" stroke-width="0.40">2</text>
<text x="525.58" y="159.90" font-size="10.60" fill="#E0262C" textLength="30.63" lengthAdjust="spacingAndGlyphs" stroke="#E0262C" stroke-width="0.55">=0.081</text>
<polygon points="47.55,423.35 48.60,426.34 52.04,426.34 49.45,428.65 50.44,432.26 47.55,430.22 44.66,432.26 45.65,428.65 43.06,426.34 46.50,426.34" fill="#FF0000"/>
<text x="49.39" y="417.80" font-size="10.60" fill="#E0262C" textLength="6.03" lengthAdjust="spacingAndGlyphs" stroke="#E0262C" stroke-width="0.55">R</text>
<text x="55.56" y="414.80" font-size="7.50" fill="#E0262C" textLength="3.79" lengthAdjust="spacingAndGlyphs" stroke="#E0262C" stroke-width="0.40">2</text>
<text x="59.58" y="417.80" font-size="10.60" fill="#E0262C" textLength="30.58" lengthAdjust="spacingAndGlyphs" stroke="#E0262C" stroke-width="0.55">=0.188</text>
<polygon points="296.80,396.25 297.85,399.24 301.29,399.24 298.70,401.55 299.69,405.16 296.80,403.12 293.91,405.16 294.90,401.55 292.31,399.24 295.75,399.24" fill="#FF0000"/>
<text x="302.59" y="393.60" font-size="10.60" fill="#E0262C" textLength="6.03" lengthAdjust="spacingAndGlyphs" stroke="#E0262C" stroke-width="0.55">R</text>
<text x="308.76" y="390.60" font-size="7.50" fill="#E0262C" textLength="3.79" lengthAdjust="spacingAndGlyphs" stroke="#E0262C" stroke-width="0.40">2</text>
<text x="312.78" y="393.60" font-size="10.60" fill="#E0262C" textLength="30.53" lengthAdjust="spacingAndGlyphs" stroke="#E0262C" stroke-width="0.55">=0.050</text>
<polygon points="344.65,437.75 345.70,440.74 349.14,440.74 346.55,443.05 347.54,446.66 344.65,444.62 341.76,446.66 342.75,443.05 340.16,440.74 343.60,440.74" fill="#FFC000"/>
<text x="347.09" y="435.80" font-size="10.60" fill="#ECB92C" textLength="6.03" lengthAdjust="spacingAndGlyphs" stroke="#ECB92C" stroke-width="0.55">R</text>
<text x="353.26" y="432.80" font-size="7.50" fill="#ECB92C" textLength="3.79" lengthAdjust="spacingAndGlyphs" stroke="#ECB92C" stroke-width="0.40">2</text>
<text x="357.27" y="435.80" font-size="10.60" fill="#ECB92C" textLength="31.05" lengthAdjust="spacingAndGlyphs" stroke="#ECB92C" stroke-width="0.55">=0.100</text>
<polygon points="483.90,415.55 484.95,418.54 488.39,418.54 485.80,420.85 486.79,424.46 483.90,422.42 481.01,424.46 482.00,420.85 479.41,418.54 482.85,418.54" fill="#FF0000"/>
<text x="490.09" y="414.00" font-size="10.60" fill="#E0262C" textLength="6.03" lengthAdjust="spacingAndGlyphs" stroke="#E0262C" stroke-width="0.55">R</text>
<text x="496.26" y="411.00" font-size="7.50" fill="#E0262C" textLength="3.79" lengthAdjust="spacingAndGlyphs" stroke="#E0262C" stroke-width="0.40">2</text>
<text x="500.28" y="414.00" font-size="10.60" fill="#E0262C" textLength="30.79" lengthAdjust="spacingAndGlyphs" stroke="#E0262C" stroke-width="0.55">=0.243</text>
<polygon points="551.80,350.85 552.85,353.84 556.29,353.84 553.70,356.15 554.69,359.76 551.80,357.72 548.91,359.76 549.90,356.15 547.31,353.84 550.75,353.84" fill="#FFC000"/>
<text x="499.29" y="355.20" font-size="10.60" fill="#ECB92C" textLength="6.03" lengthAdjust="spacingAndGlyphs" stroke="#ECB92C" stroke-width="0.55">R</text>
<text x="505.46" y="352.20" font-size="7.50" fill="#ECB92C" textLength="3.79" lengthAdjust="spacingAndGlyphs" stroke="#ECB92C" stroke-width="0.40">2</text>
<text x="509.47" y="355.20" font-size="10.60" fill="#ECB92C" textLength="31.10" lengthAdjust="spacingAndGlyphs" stroke="#ECB92C" stroke-width="0.55">=0.253</text>
<rect x="237.5" y="221.5" width="205" height="40.7" fill="#fff" stroke="#a6a6a6" stroke-width="1"/>
<polygon points="252.30,227.05 253.77,231.22 258.55,231.22 254.95,234.44 256.32,239.46 252.30,236.61 248.28,239.46 249.65,234.44 246.05,231.22 250.83,231.22" fill="#FF0000"/>
<polygon points="252.30,244.15 253.77,248.32 258.55,248.32 254.95,251.54 256.32,256.56 252.30,253.71 248.28,256.56 249.65,251.54 246.05,248.32 250.83,248.32" fill="#FFC000"/>
<text x="266.16" y="236.80" font-size="9.75" fill="#1a1a1a" textLength="19.15" lengthAdjust="spacingAndGlyphs" stroke="#1a1a1a" stroke-width="0.20">Max</text>
<text x="288.45" y="236.80" font-size="9.75" fill="#1a1a1a" textLength="6.58" lengthAdjust="spacingAndGlyphs" stroke="#1a1a1a" stroke-width="0.20">R</text>
<text x="294.95" y="233.10" font-size="6.50" fill="#1a1a1a" textLength="3.30" lengthAdjust="spacingAndGlyphs" stroke="#1a1a1a" stroke-width="0.30">2</text>
<text x="301.12" y="236.80" font-size="9.75" fill="#1a1a1a" textLength="133.02" lengthAdjust="spacingAndGlyphs" stroke="#1a1a1a" stroke-width="0.20">in VNIR range (400-1000 nm)</text>
<text x="266.16" y="253.20" font-size="9.75" fill="#1a1a1a" textLength="19.15" lengthAdjust="spacingAndGlyphs" stroke="#1a1a1a" stroke-width="0.20">Max</text>
<text x="288.45" y="253.20" font-size="9.75" fill="#1a1a1a" textLength="6.58" lengthAdjust="spacingAndGlyphs" stroke="#1a1a1a" stroke-width="0.20">R</text>
<text x="294.95" y="249.50" font-size="6.50" fill="#1a1a1a" textLength="3.30" lengthAdjust="spacingAndGlyphs" stroke="#1a1a1a" stroke-width="0.30">2</text>
<text x="301.10" y="253.20" font-size="9.75" fill="#1a1a1a" textLength="125.35" lengthAdjust="spacingAndGlyphs" stroke="#1a1a1a" stroke-width="0.20">in full range (400-2500 nm)</text>
</svg></body></html>
